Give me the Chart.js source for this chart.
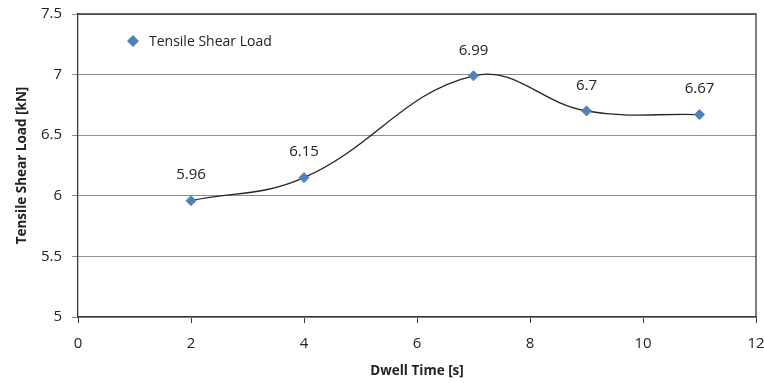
<!DOCTYPE html>
<html>
<head>
<meta charset="utf-8">
<script src="https://cdn.jsdelivr.net/npm/chart.js@4"></script>
<style>
  html, body { margin: 0; padding: 0; background: #fff; }
  #wrap { width: 764px; height: 383px; }
</style>
</head>
<body>
<div id="wrap"><canvas id="myChart1" width="764" height="383"></canvas></div>
<script>
var dwellTime = [2, 4, 7, 9, 11];
var shearLoad = [5.96, 6.15, 6.99, 6.7, 6.67];
var seriesName = "Tensile Shear Load";
var xTitle = "Dwell Time [s]";
var yTitle = "Tensile Shear Load [kN]";

var FONT = "'Open Sans', 'Liberation Sans', sans-serif";
var MARK = "#4f81bd";

// value labels above each point + the box round the plot area + legend inside
var extras = {
  id: "extras",
  afterDatasetsDraw: function (chart) {
    var ctx = chart.ctx, a = chart.chartArea;
    ctx.save();
    ctx.strokeStyle = "#3a3a3a";
    ctx.lineWidth = 1.3;
    ctx.beginPath();
    ctx.moveTo(a.left, a.top); ctx.lineTo(a.right, a.top); ctx.lineTo(a.right, a.bottom);
    ctx.stroke();

    ctx.fillStyle = "#222";
    ctx.font = "15px " + FONT;
    ctx.textAlign = "center";
    ctx.textBaseline = "bottom";
    chart.getDatasetMeta(0).data.forEach(function (pt, i) {
      ctx.fillText(String(shearLoad[i]), pt.x, pt.y - 18);
    });

    // legend
    var lx = a.left + 55, ly = a.top + 27;
    ctx.fillStyle = MARK;
    ctx.beginPath();
    ctx.moveTo(lx, ly - 6); ctx.lineTo(lx + 6, ly); ctx.lineTo(lx, ly + 6); ctx.lineTo(lx - 6, ly);
    ctx.closePath(); ctx.fill();
    ctx.fillStyle = "#222";
    ctx.textAlign = "left";
    ctx.textBaseline = "middle";
    ctx.font = "14px " + FONT;
    ctx.fillText(seriesName, lx + 16, ly + 1);
    ctx.restore();
  }
};

new Chart(document.getElementById("myChart1"), {
  type: "line",
  data: {
    datasets: [
      {
        label: seriesName,
        data: dwellTime.map(function (x, i) { return { x: x, y: shearLoad[i] }; }),
        borderColor: "#262626",
        borderWidth: 1.4,
        tension: 0.4,
        pointStyle: "rectRot",
        pointRadius: 5,
        pointBackgroundColor: MARK,
        pointBorderColor: MARK,
        pointBorderWidth: 1,
      },
    ],
  },
  options: {
    responsive: false,
    animation: false,
    layout: { padding: { left: 0, right: 8, top: 14, bottom: 0 } },
    plugins: {
      legend: { display: false },
      tooltip: { enabled: false },
    },
    scales: {
      x: {
        type: "linear",
        min: 0,
        max: 12,
        ticks: { stepSize: 2, color: "#222", font: { family: FONT, size: 15 }, padding: 12 },
        grid: { drawOnChartArea: false, color: "#3a3a3a", tickLength: 6 },
        border: { color: "#3a3a3a", width: 1.3 },
        title: { display: true, text: xTitle, color: "#222", font: { family: FONT, size: 13.5, weight: "bold" }, padding: { top: 6 } },
        afterFit: function (s) { s.height = 66; s.paddingLeft = 0; s.paddingRight = 0; },
      },
      y: {
        min: 5,
        max: 7.5,
        ticks: {
          stepSize: 0.5, color: "#222", font: { family: FONT, size: 15 }, padding: 10,
          callback: function (v) { return String(v); },
        },
        grid: { color: "#8c8c8c", tickLength: 6 },
        border: { color: "#3a3a3a", width: 1.3 },
        title: { display: true, text: yTitle, color: "#222", font: { family: FONT, size: 13.5, weight: "bold" }, padding: { top: 14, bottom: 0 } },
        afterFit: function (s) { s.width = 78; s.paddingTop = 0; s.paddingBottom = 0; },
      },
    },
  },
  plugins: [extras],
});
</script>
</body>
</html>
